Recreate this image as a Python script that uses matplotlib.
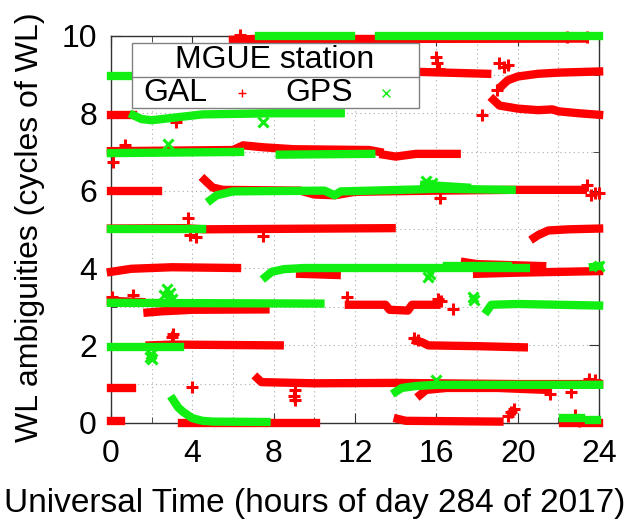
import matplotlib
matplotlib.use("Agg")
import matplotlib.pyplot as plt
from matplotlib.patches import Rectangle
from matplotlib.ticker import MultipleLocator

plt.rcParams['font.family'] = ['Liberation Sans', 'DejaVu Sans']

# WL ambiguity tracks: each track is a list of (hour, cycles)
gal_tracks = [
    # around 10
    [(6.0, 9.9), (7.0, 9.92), (12.0, 9.92), (23.2, 9.93)],
    # around 9 / 8 after the jump
    [(13.5, 9.05), (15.1, 9.07), (18.5, 9.02)],
    [(19.2, 8.7), (19.5, 8.85), (20.0, 8.95), (21.0, 9.02), (22.0, 9.05), (24.0, 9.08)],
    [(18.8, 8.35), (19.1, 8.2), (20.0, 8.12), (21.0, 8.08), (21.7, 8.1), (22.0, 8.05), (23.0, 8.0), (24.0, 7.96)],
    # around 8
    [(0.0, 7.95), (1.1, 7.95)],
    # around 7
    [(0.0, 7.02), (6.0, 7.05), (6.5, 7.17), (7.5, 7.12), (9.0, 7.07), (12.7, 7.05), (13.2, 7.0)],
    [(13.4, 6.93), (14.0, 6.88), (15.0, 6.95), (17.0, 6.95)],
    # around 6
    [(0.0, 6.0), (2.3, 6.0)],
    [(4.6, 6.28), (5.0, 6.08), (5.5, 6.02), (9.3, 6.0), (10.0, 5.9), (11.0, 5.88), (12.0, 5.97),
     (16.0, 6.0), (19.7, 6.02), (23.2, 6.02)],
    # around 5
    [(0.0, 5.02), (3.6, 5.03), (4.6, 5.0), (13.8, 5.03)],
    [(20.8, 4.78), (21.0, 4.85), (21.5, 4.97), (22.5, 5.0), (24.0, 5.02)],
    # around 4
    [(0.0, 3.9), (1.0, 3.98), (3.0, 4.02), (6.2, 4.0)],
    [(9.3, 3.85), (11.1, 3.82)],
    [(17.4, 4.15), (18.0, 4.1), (21.2, 4.05)],
    [(18.0, 3.85), (20.0, 3.88), (24.0, 3.92)],
    # around 3
    [(0.0, 3.15), (1.5, 3.12)],
    [(1.8, 2.85), (2.5, 2.88), (4.0, 2.92), (7.6, 2.93)],
    [(11.7, 3.05), (13.5, 3.05), (13.7, 2.92), (14.6, 2.9), (14.8, 3.05), (16.0, 3.05)],
    # around 2
    [(1.9, 2.0), (3.0, 2.02), (8.3, 2.0)],
    [(15.0, 2.12), (15.3, 2.08), (15.6, 2.0), (18.0, 1.98), (20.3, 1.95)],
    # around 1
    [(0.0, 0.9), (1.05, 0.9)],
    [(7.2, 1.15), (7.4, 1.05), (10.0, 1.02), (14.0, 1.03), (20.0, 1.0), (24.0, 1.0)],
    [(15.2, 0.72), (15.5, 0.85), (16.5, 0.9), (19.0, 0.9), (21.4, 0.85)],
    # around 0
    [(0.0, 0.05), (0.5, 0.05)],
    [(3.5, 0.0), (7.0, 0.0), (10.1, 0.0)],
    [(14.1, 0.1), (14.5, 0.05), (19.1, 0.03)],
    [(22.2, 0.0), (24.0, 0.0)],
]
gal_out_t = [6.35, 22.4, 23.4, 16.0, 16.05, 16.15, 19.1, 19.3, 19.5, 19.0, 18.25, 3.2,
             0.1, 0.7, 16.2, 23.4, 23.6, 23.8, 24.0, 3.8, 3.9, 4.2, 7.5, 0.05, 1.1,
             11.6, 16.1, 16.25, 16.8, 3.0, 3.05, 14.9, 15.1, 4.0, 9.0, 9.05, 9.05,
             23.5, 23.8, 21.6, 22.6, 19.5, 19.65, 19.8, 22.8, 23.0]
gal_out_v = [10.03, 9.97, 9.97, 9.45, 9.3, 9.15, 9.3, 9.2, 9.25, 8.6, 7.96, 7.78,
             6.75, 7.18, 5.82, 6.15, 5.9, 5.95, 5.95, 5.28, 4.85, 4.8, 4.82, 3.25, 3.3,
             3.25, 3.2, 3.15, 2.95, 2.22, 2.3, 2.18, 2.15, 0.93, 0.7, 0.6, 0.85,
             1.12, 1.1, 0.75, 0.8, 0.18, 0.28, 0.35, 0.2, 0.05]

gps_tracks = [
    [(7.3, 10.0), (11.8, 10.0)],
    [(13.2, 10.0), (24.0, 10.0)],
    [(0.0, 8.97), (0.95, 8.97)],
    [(1.1, 7.95), (1.5, 7.85), (2.0, 7.82), (3.0, 7.88), (4.5, 7.97), (8.0, 8.0), (11.3, 8.0)],
    [(0.0, 6.97), (6.35, 7.0)],
    [(8.3, 6.93), (12.8, 6.95)],
    [(4.9, 5.76), (5.2, 5.88), (6.0, 5.98), (10.5, 6.0), (11.0, 5.88), (11.3, 5.98),
     (15.0, 6.03), (16.0, 6.05), (19.7, 6.02)],
    [(15.4, 6.15), (17.5, 6.08)],
    [(0.0, 5.0), (4.5, 5.0)],
    [(7.6, 3.77), (7.9, 3.9), (8.5, 3.97), (9.5, 4.0), (15.5, 4.0), (20.4, 4.0)],
    [(16.5, 4.05), (19.5, 4.05)],
    [(23.7, 4.03), (24.0, 4.05)],
    [(0.0, 3.1), (10.3, 3.08)],
    [(18.5, 2.9), (18.7, 3.05), (20.0, 3.07), (24.0, 3.03)],
    [(0.0, 1.97), (3.4, 1.97)],
    [(14.0, 0.8), (14.3, 0.9), (15.0, 0.95), (16.0, 0.98), (24.0, 0.98)],
    [(3.05, 0.6), (3.3, 0.4), (3.55, 0.28), (4.0, 0.12), (4.5, 0.05), (5.0, 0.03), (7.65, 0.02)],
    [(22.2, 0.12), (23.1, 0.12)],
    [(23.5, 0.08), (23.9, 0.08)],
]
gps_out_t = [7.5, 2.8, 15.5, 15.6, 15.8, 15.6, 15.7, 2.6, 2.75, 2.9, 3.0, 17.8, 17.85,
             1.9, 2.0, 1.95, 16.0, 24.0]
gps_out_v = [7.78, 7.2, 6.25, 6.15, 6.2, 3.78, 3.85, 3.3, 3.45, 3.35, 3.2, 3.25, 3.18,
             1.7, 1.65, 1.78, 1.1, 4.05]

gal_color = '#ff0000'
gps_color = '#11ee11'
fs = 23

fig = plt.figure(figsize=(6.3, 5.2), dpi=100)
ax = fig.add_axes([0.176, 0.187, 0.775, 0.744])

for tr in gal_tracks:
    ax.plot([p[0] for p in tr], [p[1] for p in tr], color=gal_color, lw=6.0,
            solid_capstyle='projecting', clip_on=False, zorder=3)
ax.plot(gal_out_t, gal_out_v, '+', color=gal_color, ms=9, mew=2.2, clip_on=False, zorder=3)

for tr in gps_tracks:
    ax.plot([p[0] for p in tr], [p[1] for p in tr], color=gps_color, lw=6.0,
            solid_capstyle='projecting', clip_on=False, zorder=4)
ax.plot(gps_out_t, gps_out_v, 'x', color=gps_color, ms=7, mew=2.2, clip_on=False, zorder=4)

ax.set_xlim(0, 24)
ax.set_ylim(0, 10)
ax.xaxis.set_major_locator(MultipleLocator(4))
ax.xaxis.set_minor_locator(MultipleLocator(2))
ax.yaxis.set_major_locator(MultipleLocator(2))
ax.yaxis.set_minor_locator(MultipleLocator(1))
ax.grid(True, which='both', color='#aaaaaa', linestyle=(0, (1, 3)), lw=0.8, zorder=0)
ax.set_axisbelow(True)
ax.tick_params(which='both', direction='in', top=True, right=True, labelsize=fs,
               color='#333333')
ax.tick_params(which='major', length=7)
ax.tick_params(which='minor', length=4)
ax.tick_params(axis='x', which='major', pad=12)
ax.tick_params(axis='y', which='major', pad=10)
for s in ax.spines.values():
    s.set_color('#333333')
    s.set_linewidth(1.0)

ax.set_xlabel('Universal Time (hours of day 284 of 2017)', fontsize=24)
ax.xaxis.set_label_coords(0.418, -0.168)
ax.set_ylabel('WL ambiguities (cycles of WL)', fontsize=fs)
ax.yaxis.set_label_coords(-0.135, 0.506)

# gnuplot style key: boxed, title row separated by a rule, label then sample
ax.add_patch(Rectangle((0.043, 0.814), 0.588, 0.168, transform=ax.transAxes,
                       facecolor='white', edgecolor='#808080', lw=1.0, zorder=6, clip_on=False))
ax.plot([0.043, 0.631], [0.894, 0.894], transform=ax.transAxes, color='#808080', lw=1.0,
        zorder=7, clip_on=False)
ax.text(0.336, 0.938, 'MGUE station', transform=ax.transAxes, fontsize=fs,
        ha='center', va='center', zorder=7)
ax.text(0.066, 0.853, 'GAL', transform=ax.transAxes, fontsize=fs, ha='left', va='center', zorder=7)
ax.text(0.357, 0.853, 'GPS', transform=ax.transAxes, fontsize=fs, ha='left', va='center', zorder=7)
ax.plot([0.268], [0.853], '+', transform=ax.transAxes, color=gal_color, ms=6, mew=1, zorder=7,
        clip_on=False)
ax.plot([0.564], [0.853], 'x', transform=ax.transAxes, color=gps_color, ms=6, mew=1, zorder=7,
        clip_on=False)

fig.savefig('out.png', dpi=100)
